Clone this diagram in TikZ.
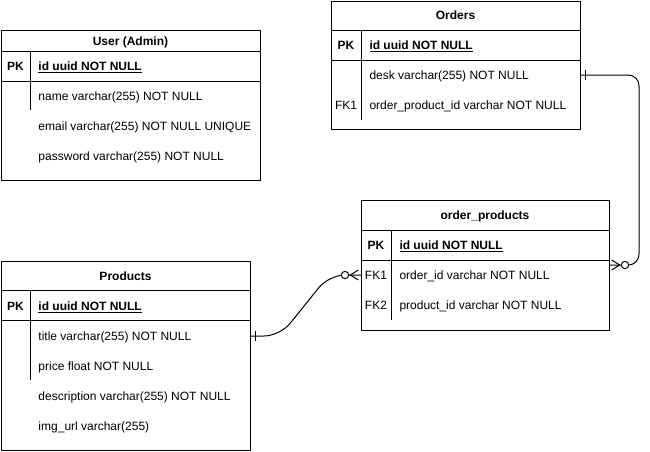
\documentclass[tikz,border=0pt]{standalone}
\usepackage{fontspec}
\setmainfont{Liberation Sans}
\usetikzlibrary{fit}
\begin{document}
\begin{tikzpicture}[x=0.75pt,y=-0.75pt, line width=0.75pt,
  tbl/.style={draw, inner sep=0pt, outer sep=0pt},
  ttl/.style={font=\fontsize{9}{11}\selectfont\bfseries, inner sep=0pt, text height=6.6pt, text depth=0.5pt},
  keytxt/.style={font=\fontsize{9}{11}\selectfont, inner sep=0pt, text height=6.6pt, text depth=0.5pt},
  pkkey/.style={keytxt, font=\fontsize{9}{11}\selectfont\bfseries},
  fld/.style={font=\fontsize{9}{11}\selectfont, anchor=west, inner sep=0pt, text height=6.6pt, text depth=0.5pt},
  pkfld/.style={fld, font=\fontsize{9}{11}\selectfont\bfseries},
  rel/.style={line width=0.75pt},
  endmark/.style={line width=0.75pt},
  ring/.style={draw, circle, fill=white, inner sep=0pt, minimum size=5.5pt, line width=0.75pt}
]
\useasboundingbox (0,0) rectangle (650,451);

% ---------------- User (Admin)
\node[tbl, fit={(1,30) (260,180)}] (user) {};
\draw (1,51) -- (260,51);
\draw (1,81) -- (260,81);
\draw (30,51) -- (30,110);
\node[ttl] (user-t) at (130.5,41) {User (Admin)};
\node[pkkey] (user-pk) at (15.5,66.5) {PK};
\node[pkfld] (user-id) at (38,66.5) {\underline{id uuid NOT NULL}};
\node[fld] (user-name) at (38,96) {name varchar(255) NOT NULL};
\node[fld] (user-email) at (38,126) {email varchar(255) NOT NULL UNIQUE};
\node[fld] (user-pw) at (38,156) {password varchar(255) NOT NULL};

% ---------------- Orders
\node[tbl, fit={(331,1) (580,129)}] (orders) {};
\draw (331,30) -- (580,30);
\draw (331,60) -- (580,60);
\draw (361,30) -- (361,120);
\node[ttl] (orders-t) at (455.5,15.5) {Orders};
\node[pkkey] (orders-pk) at (346,45.5) {PK};
\node[pkfld] (orders-id) at (369,45.5) {\underline{id uuid NOT NULL}};
\node[fld] (orders-desk) at (369,75) {desk varchar(255) NOT NULL};
\node[keytxt] (orders-fk1) at (346,105) {FK1};
\node[fld] (orders-op) at (369,105) {order\_product\_id varchar NOT NULL};

% ---------------- order_products
\node[tbl, fit={(361,200) (609,330)}] (op) {};
\draw (361,230) -- (609,230);
\draw (361,260) -- (609,260);
\draw (391,230) -- (391,320);
\node[ttl] (op-t) at (485,215.5) {order\_products};
\node[pkkey] (op-pk) at (376,245.5) {PK};
\node[pkfld] (op-id) at (399,245.5) {\underline{id uuid NOT NULL}};
\node[keytxt] (op-fk1) at (376,275) {FK1};
\node[fld] (op-oid) at (399,275) {order\_id varchar NOT NULL};
\node[keytxt] (op-fk2) at (376,305) {FK2};
\node[fld] (op-pid) at (399,305) {product\_id varchar NOT NULL};

% ---------------- Products
\node[tbl, fit={(1,261) (250,450)}] (prod) {};
\draw (1,290) -- (250,290);
\draw (1,320) -- (250,320);
\draw (30,290) -- (30,380);
\node[ttl] (prod-t) at (125.5,276) {Products};
\node[pkkey] (prod-pk) at (15.5,306) {PK};
\node[pkfld] (prod-id) at (38,306) {\underline{id uuid NOT NULL}};
\node[fld] (prod-title) at (38,336) {title varchar(255) NOT NULL};
\node[fld] (prod-price) at (38,366) {price float NOT NULL};
\node[fld] (prod-desc) at (38,396) {description varchar(255) NOT NULL};
\node[fld] (prod-img) at (38,426) {img\_url varchar(255)};

% ---------------- Connectors
% Orders (desk row) -> order_products (right side)
\coordinate (a1) at (orders.east |- orders-desk);
\coordinate (a2) at (609,265);
\draw[rel, rounded corners=8] (a1) -- (639,75) -- (639,265) -- (a2);
\draw[endmark] ([xshift=4]a1) ++(0,-5) -- ++(0,10);
\draw[endmark] ([xshift=8]a2) -- ++(-8,-5);
\draw[endmark] ([xshift=8]a2) -- ++(-8,5);
\node[ring] (ring1) at ([xshift=12]a2) {};

% Products (title row) -> order_products (FK1 row, left side)
\coordinate (b1) at (prod.east |- prod-title);
\coordinate (b2) at (op.west |- op-oid);
\draw[rel, rounded corners=12] (b1) -- (280,336) -- (329,275) -- (b2);
\draw[endmark] ([xshift=4]b1) ++(0,-5) -- ++(0,10);
\draw[endmark] ([xshift=-8]b2) -- ++(8,-5);
\draw[endmark] ([xshift=-8]b2) -- ++(8,5);
\node[ring] (ring2) at ([xshift=-12]b2) {};
\end{tikzpicture}
\end{document}
